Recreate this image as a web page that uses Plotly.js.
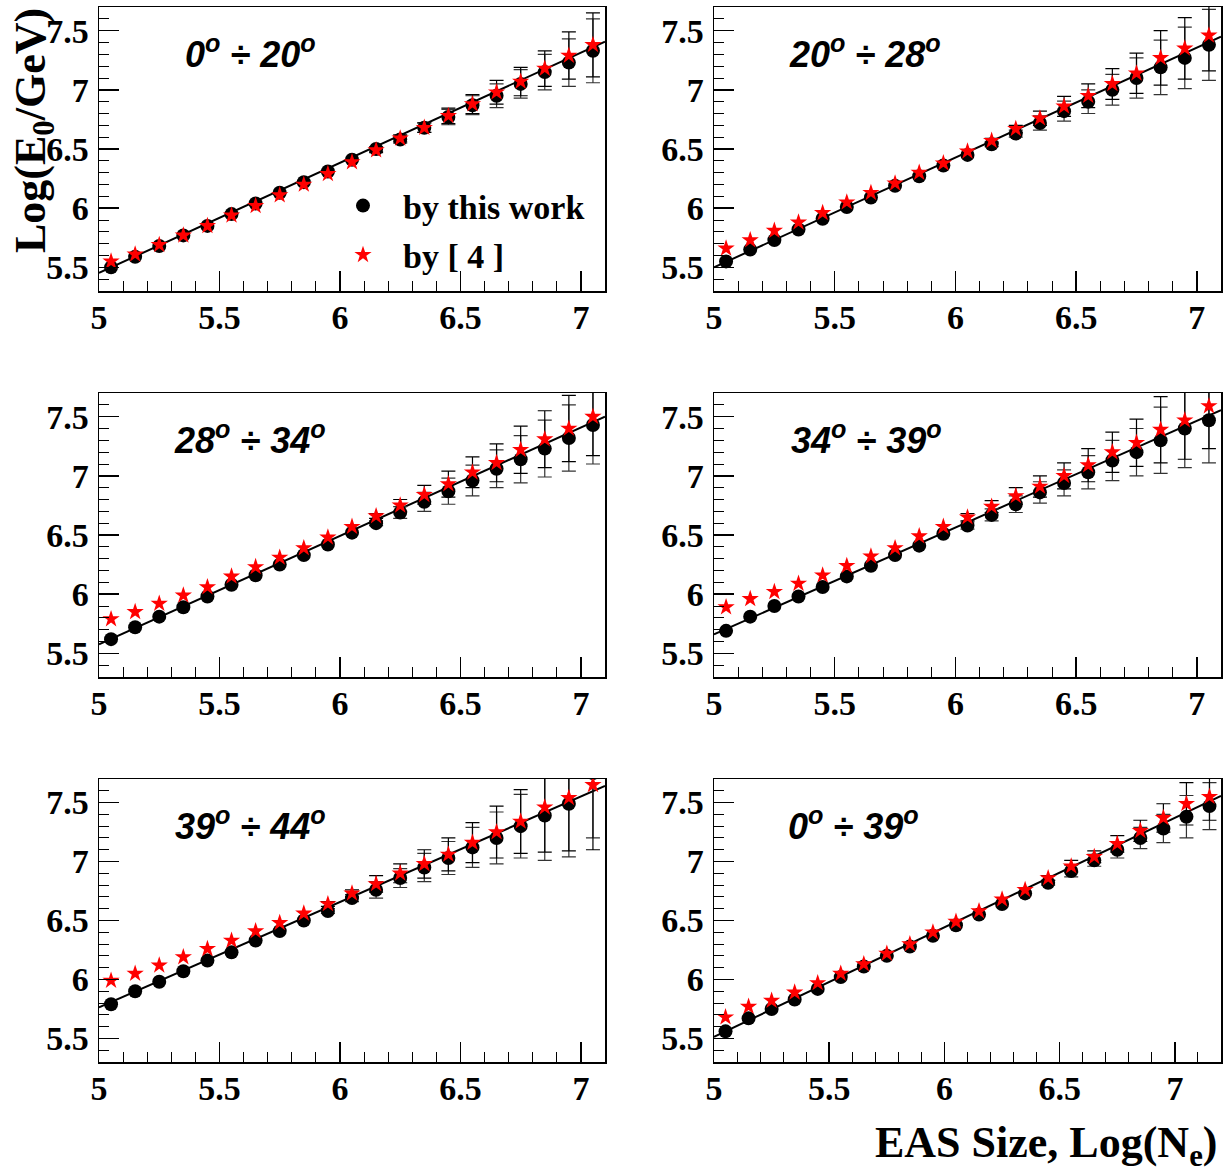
<!DOCTYPE html>
<html>
<head>
<meta charset="utf-8">
<script src="https://cdn.plot.ly/plotly-3.0.1.min.js"></script>
<style>html,body{margin:0;padding:0;background:#fff;}#chart{width:1228px;height:1175px;}</style>
</head>
<body>
<div id="chart"></div>
<script>
// ---- data ----
const xBins  = [5.05,5.15,5.25,5.35,5.45,5.55,5.65,5.75,5.85,5.95,6.05,6.15,6.25,6.35,6.45,6.55,6.65,6.75,6.85,6.95,7.05];
const xBins6 = [5.05,5.15,5.25,5.35,5.45,5.55,5.65,5.75,5.85,5.95,6.05,6.15,6.25,6.35,6.45,6.55,6.65,6.75,6.85,6.95,7.05,7.15];

const panelLabels = ["0<sup>o</sup> ÷ 20<sup>o</sup>", "20<sup>o</sup> ÷ 28<sup>o</sup>", "28<sup>o</sup> ÷ 34<sup>o</sup>",
                     "34<sup>o</sup> ÷ 39<sup>o</sup>", "39<sup>o</sup> ÷ 44<sup>o</sup>", "0<sup>o</sup> ÷ 39<sup>o</sup>"];

// "by this work" (black circles)
const work1 = [5.50,5.59,5.68,5.77,5.85,5.95,6.04,6.13,6.22,6.31,6.41,6.50,6.58,6.68,6.77,6.87,6.95,7.05,7.15,7.23,7.33];
const work2 = [5.55,5.65,5.73,5.82,5.91,6.01,6.09,6.19,6.27,6.36,6.45,6.54,6.63,6.72,6.82,6.90,7.00,7.10,7.19,7.27,7.38];
const work3 = [5.62,5.72,5.81,5.89,5.98,6.08,6.16,6.25,6.33,6.42,6.52,6.60,6.69,6.78,6.87,6.96,7.06,7.14,7.23,7.32,7.43];
const work4 = [5.69,5.81,5.90,5.98,6.06,6.15,6.24,6.33,6.41,6.51,6.58,6.67,6.76,6.86,6.94,7.03,7.13,7.20,7.30,7.40,7.47];
const work5 = [5.79,5.90,5.98,6.07,6.16,6.23,6.33,6.41,6.50,6.58,6.69,6.76,6.86,6.95,7.03,7.12,7.20,7.30,7.39,7.49,7.75];
const work6 = [5.56,5.67,5.75,5.83,5.92,6.02,6.11,6.20,6.28,6.37,6.46,6.55,6.64,6.73,6.82,6.92,7.01,7.10,7.20,7.28,7.38,7.47];

// "by [ 4 ]" (red stars)
const ref1 = [5.55,5.61,5.69,5.77,5.85,5.94,6.02,6.11,6.20,6.29,6.39,6.49,6.59,6.68,6.78,6.88,6.98,7.07,7.18,7.29,7.38];
const ref2 = [5.66,5.73,5.81,5.88,5.96,6.05,6.13,6.21,6.30,6.38,6.48,6.57,6.67,6.76,6.86,6.95,7.05,7.14,7.27,7.35,7.46];
const ref3 = [5.79,5.85,5.92,5.99,6.06,6.15,6.23,6.31,6.39,6.48,6.57,6.66,6.75,6.84,6.93,7.03,7.11,7.22,7.31,7.40,7.50];
const ref4 = [5.89,5.96,6.02,6.09,6.16,6.24,6.32,6.39,6.49,6.57,6.65,6.74,6.83,6.91,7.00,7.09,7.20,7.28,7.39,7.47,7.59];
const ref5 = [5.99,6.05,6.12,6.19,6.26,6.33,6.41,6.48,6.56,6.64,6.73,6.81,6.90,6.98,7.06,7.16,7.25,7.34,7.46,7.54,7.65];
const ref6 = [5.68,5.77,5.82,5.89,5.97,6.05,6.13,6.22,6.30,6.40,6.49,6.58,6.68,6.76,6.86,6.96,7.04,7.15,7.26,7.37,7.49,7.55];

// error bars (same size for both series in each bin; 0 = not visible)
const err1 = [0,0,0,0,0,0,0,0,0,0,0,0.02,0.03,0.04,0.065,0.08,0.10,0.12,0.15,0.20,0.27];
const err2 = [0,0,0,0,0,0,0,0,0,0,0,0.02,0.03,0.06,0.085,0.10,0.13,0.17,0.23,0.26,0.30];
const err3 = [0,0,0,0,0,0,0,0,0,0,0,0.02,0.05,0.08,0.11,0.13,0.16,0.20,0.24,0.28,0.33];
const err4 = [0,0,0,0,0,0,0,0,0,0,0.03,0.05,0.07,0.09,0.11,0.14,0.17,0.20,0.28,0.33,0.36];
const err5 = [0,0,0,0,0,0,0,0,0,0.02,0.03,0.07,0.08,0.12,0.14,0.17,0.22,0.27,0.38,0.45,0.55];
const err6 = [0,0,0,0,0,0,0,0,0,0,0,0,0,0,0.02,0.05,0.05,0.07,0.09,0.12,0.18,0.20];

// straight-line fits: value at left and right edge of x range
const fitLeft  = [5.453, 5.50, 5.576, 5.66, 5.763, 5.514];
const fitRight = [7.407, 7.449, 7.50, 7.556, 7.641, 7.556];

const xRange  = [5, 7.1];
const xRange6 = [5, 7.2];
const yRange  = [5.3, 7.7];

const legendNames = ["by this work", "by [ 4 ]"];
const yTitle = "Log(E<sub>0</sub>/GeV)";
const xTitle = "EAS Size, Log(N<sub>e</sub>)";

// ---- build ----
const works = [work1, work2, work3, work4, work5, work6];
const refs  = [ref1, ref2, ref3, ref4, ref5, ref6];
const errs  = [err1, err2, err3, err4, err5, err6];

const W = 1228, H = 1175;
const colPx = [[99, 605], [714, 1221]];
const rowPx = [[7, 291], [393, 677], [779, 1062]];
const labelX = [0.166, 0.144, 0.144, 0.148, 0.146, 0.142];

const traces = [];
const layout = {
  width: W, height: H,
  margin: {l: 0, r: 0, t: 0, b: 0},
  paper_bgcolor: 'white', plot_bgcolor: 'white',
  font: {family: 'Liberation Serif', color: 'black'},
  showlegend: true,
  legend: {
    x: 323 / W, xanchor: 'left', y: 1 - 177 / H, yanchor: 'top',
    bgcolor: 'rgba(0,0,0,0)', borderwidth: 0, itemwidth: 70,
    font: {family: 'Liberation Serif', size: 34, weight: 'bold', color: 'black'},
    tracegroupgap: 2, traceorder: 'grouped'
  },
  annotations: []
};

function errArr(e) { return e.map(v => v > 0 ? v : NaN); }

for (let p = 0; p < 6; p++) {
  const col = p % 2, row = Math.floor(p / 2);
  const sfx = p === 0 ? '' : String(p + 1);
  const xa = 'x' + sfx, ya = 'y' + sfx;
  const xs = p === 5 ? xBins6 : xBins;
  const xr = p === 5 ? xRange6 : xRange;
  const first = p === 0;

  // fit line
  traces.push({
    type: 'scatter', mode: 'lines', x: xr, y: [fitLeft[p], fitRight[p]],
    xaxis: xa, yaxis: ya, line: {color: 'black', width: 2},
    showlegend: false, hoverinfo: 'skip', cliponaxis: true
  });
  // by this work
  traces.push({
    type: 'scatter', mode: 'markers', x: xs, y: works[p],
    xaxis: xa, yaxis: ya, name: legendNames[0], legendgroup: 'a', showlegend: first,
    marker: {symbol: 'circle', size: 14, color: 'black'},
    error_y: {type: 'data', array: errArr(errs[p]), visible: true, color: '#333', thickness: 1.2, width: 7},
    cliponaxis: true
  });
  // by [4]
  traces.push({
    type: 'scatter', mode: 'markers', x: xs, y: refs[p],
    xaxis: xa, yaxis: ya, name: legendNames[1], legendgroup: 'b', showlegend: first,
    marker: {symbol: 'star', size: 13, color: '#ff0000', line: {width: 0}},
    error_y: {type: 'data', array: errArr(errs[p]), visible: true, color: 'black', thickness: 1.2, width: 7},
    cliponaxis: true
  });

  const tickfont = {family: 'Liberation Serif', size: 34, weight: 'bold', color: 'black'};
  layout['xaxis' + sfx] = {
    domain: [colPx[col][0] / W, colPx[col][1] / W], anchor: ya, range: xr,
    showline: true, mirror: true, linecolor: 'black', linewidth: 1.5,
    showgrid: false, zeroline: false,
    tickmode: 'linear', tick0: 5, dtick: 0.5,
    ticks: 'inside', ticklen: 20, tickwidth: 1.5, tickcolor: 'black',
    minor: {tickmode: 'linear', tick0: 5, dtick: 0.1, ticks: 'inside', ticklen: 10, tickwidth: 1, tickcolor: 'black', showgrid: false},
    tickfont: tickfont, ticklabelstandoff: -4
  };
  layout['yaxis' + sfx] = {
    domain: [1 - rowPx[row][1] / H, 1 - rowPx[row][0] / H], anchor: xa, range: yRange,
    showline: true, mirror: true, linecolor: 'black', linewidth: 1.5,
    showgrid: false, zeroline: false,
    tickmode: 'linear', tick0: 5.5, dtick: 0.5,
    ticks: 'inside', ticklen: 20, tickwidth: 1.5, tickcolor: 'black',
    minor: {tickmode: 'linear', tick0: 5.5, dtick: 0.1, ticks: 'inside', ticklen: 10, tickwidth: 1, tickcolor: 'black', showgrid: false},
    tickfont: tickfont, ticklabelstandoff: 2
  };
  layout.annotations.push({
    xref: xa + ' domain', yref: ya + ' domain', x: labelX[p], y: 0.842,
    xanchor: 'left', yanchor: 'middle', showarrow: false,
    text: panelLabels[p],
    font: {family: 'Liberation Sans', size: 36, weight: 'bold', style: 'italic', color: 'black'}
  });
}

layout.annotations.push({
  xref: 'paper', yref: 'paper', x: 34 / W, y: 1 - 131 / H, xanchor: 'center', yanchor: 'middle',
  textangle: -90, showarrow: false, text: yTitle,
  font: {family: 'Liberation Serif', size: 44, weight: 'bold', color: 'black'}
});
layout.annotations.push({
  xref: 'paper', yref: 'paper', x: 1219 / W, y: 1 - 1145 / H, xanchor: 'right', yanchor: 'middle',
  showarrow: false, text: xTitle,
  font: {family: 'Liberation Serif', size: 44, weight: 'bold', color: 'black'}
});

Plotly.newPlot('chart', traces, layout, {displayModeBar: false, staticPlot: true});
</script>
</body>
</html>
